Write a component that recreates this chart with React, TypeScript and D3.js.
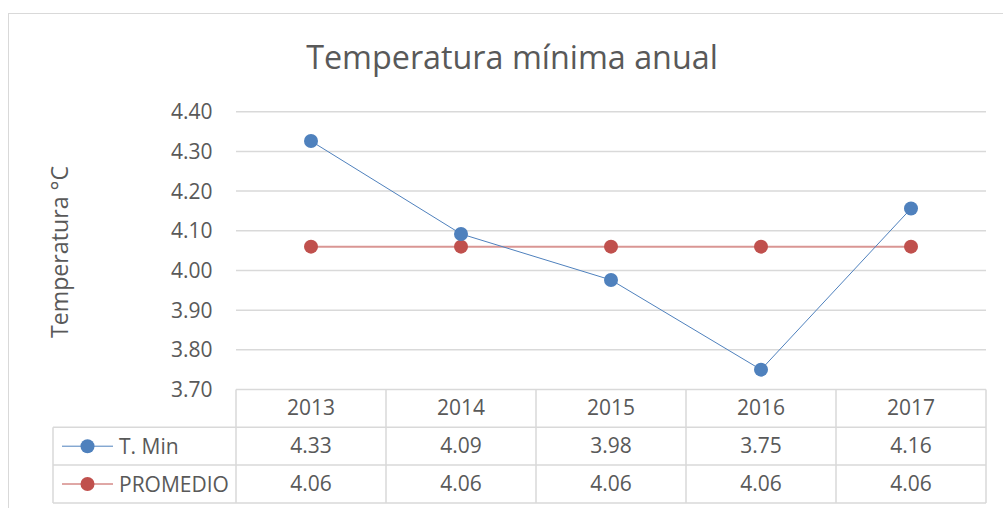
import * as d3 from 'd3'
import { useEffect, useRef } from 'react'

const years = ['2013', '2014', '2015', '2016', '2017']
const tMin = [4.326, 4.092, 3.976, 3.75, 4.156]
const promedio = [4.06, 4.06, 4.06, 4.06, 4.06]
const yTicks = [3.7, 3.8, 3.9, 4.0, 4.1, 4.2, 4.3, 4.4]
const seriesNames = ['T. Min', 'PROMEDIO']

const FONT = '"Open Sans", sans-serif'
const TEXT = '#595959'
const GRID = '#d9d9d9'
const BLUE = '#4f81bd'
const RED = '#c0504d'

export default function App() {
    const ref = useRef<SVGSVGElement>(null)

    useEffect(() => {
        const W = 1003
        const H = 508
        const plot = { left: 236, right: 986, top: 111.7, bottom: 389.5 }
        const rowH = 37.8

        const svg = d3.select(ref.current)
        svg.selectAll('*').remove()
        svg.attr('width', W).attr('height', H)

        svg.append('rect')
            .attr('x', 0).attr('y', 0).attr('width', W).attr('height', H)
            .attr('fill', '#fff')

        // chart area border
        svg.append('rect')
            .attr('x', 8.5).attr('y', 13.5).attr('width', W + 10).attr('height', H + 10)
            .attr('fill', 'none').attr('stroke', GRID).attr('stroke-width', 1)

        svg.append('text')
            .attr('x', 512).attr('y', 68.5)
            .attr('text-anchor', 'middle')
            .attr('font-family', FONT).attr('font-size', 32.3)
            .attr('fill', TEXT)
            .text('Temperatura mínima anual')

        const x = d3.scaleBand()
            .domain(years)
            .range([plot.left, plot.right])

        const y = d3.scaleLinear()
            .domain([3.7, 4.4])
            .range([plot.bottom, plot.top])

        // gridlines
        svg.append('g')
            .selectAll('line')
            .data(yTicks.filter(t => t > 3.7))
            .join('line')
                .attr('x1', plot.left).attr('x2', plot.right)
                .attr('y1', d => y(d)).attr('y2', d => y(d))
                .attr('stroke', GRID).attr('stroke-width', 1.5)

        // y tick labels
        svg.append('g')
            .selectAll('text')
            .data(yTicks)
            .join('text')
                .attr('x', 212.5).attr('y', d => y(d) + 7.6)
                .attr('text-anchor', 'end')
                .attr('font-family', FONT).attr('font-size', 21)
                .attr('fill', TEXT)
                .text(d => d3.format('.2f')(d))

        svg.append('text')
            .attr('transform', 'translate(68,252) rotate(-90)')
            .attr('text-anchor', 'middle')
            .attr('font-family', FONT).attr('font-size', 23.2)
            .attr('fill', TEXT)
            .text('Temperatura °C')

        // data table
        const tableTop = plot.bottom
        const table = svg.append('g')
            .attr('fill', 'none').attr('stroke', GRID).attr('stroke-width', 1.5)
        table.append('line')
            .attr('x1', plot.left).attr('x2', plot.right)
            .attr('y1', tableTop).attr('y2', tableTop)
        ;[1, 2, 3].forEach(i => {
            table.append('line')
                .attr('x1', 53).attr('x2', plot.right)
                .attr('y1', tableTop + rowH * i).attr('y2', tableTop + rowH * i)
        })
        table.append('line')
            .attr('x1', 53).attr('x2', 53)
            .attr('y1', tableTop + rowH).attr('y2', tableTop + rowH * 3)
        d3.range(years.length + 1).forEach(i => {
            const xx = plot.left + x.step() * i
            table.append('line')
                .attr('x1', xx).attr('x2', xx)
                .attr('y1', tableTop).attr('y2', tableTop + rowH * 3)
        })

        const cellText = svg.append('g')
            .attr('font-family', FONT).attr('font-size', 21)
            .attr('fill', TEXT).attr('text-anchor', 'middle')

        cellText.append('g').selectAll('text')
            .data(years)
            .join('text')
                .attr('x', d => (x(d) ?? 0) + x.bandwidth() / 2)
                .attr('y', tableTop + rowH / 2 + 7)
                .text(d => d)

        const rows = [tMin, promedio]
        const colors = [BLUE, RED]
        rows.forEach((vals, r) => {
            const cy = tableTop + rowH * (r + 1) + rowH / 2
            cellText.append('g').selectAll('text')
                .data(vals)
                .join('text')
                    .attr('x', (d, i) => (x(years[i]) ?? 0) + x.bandwidth() / 2)
                    .attr('y', cy + 7)
                    .text(d => d3.format('.2f')(d))

            // legend key
            svg.append('line')
                .attr('x1', 62).attr('x2', 113)
                .attr('y1', cy).attr('y2', cy)
                .attr('stroke', colors[r]).attr('stroke-width', 1)
            svg.append('circle')
                .attr('cx', 87.5).attr('cy', cy).attr('r', 7)
                .attr('fill', colors[r])
            svg.append('text')
                .attr('x', 119).attr('y', cy + 7.5)
                .attr('font-family', FONT).attr('font-size', 21)
                .attr('fill', TEXT)
                .text(seriesNames[r])
        })

        const line = d3.line<number>()
            .x((d, i) => (x(years[i]) ?? 0) + x.bandwidth() / 2)
            .y(d => y(d))

        svg.append('path')
            .datum(promedio)
            .attr('d', line)
            .attr('fill', 'none').attr('stroke', RED)
            .attr('stroke-width', 2).attr('stroke-opacity', 0.6)

        svg.append('path')
            .datum(tMin)
            .attr('d', line)
            .attr('fill', 'none').attr('stroke', BLUE).attr('stroke-width', 1)

        ;[promedio, tMin].forEach((vals, k) => {
            svg.append('g')
                .selectAll('circle')
                .data(vals)
                .join('circle')
                    .attr('cx', (d, i) => (x(years[i]) ?? 0) + x.bandwidth() / 2)
                    .attr('cy', d => y(d))
                    .attr('r', 7)
                    .attr('fill', k === 0 ? RED : BLUE)
        })
    }, [])

    return (
        <div style={{ position: 'absolute', left: 0, top: 0 }}>
            <svg ref={ref} style={{ display: 'block' }}></svg>
        </div>
    )
}
